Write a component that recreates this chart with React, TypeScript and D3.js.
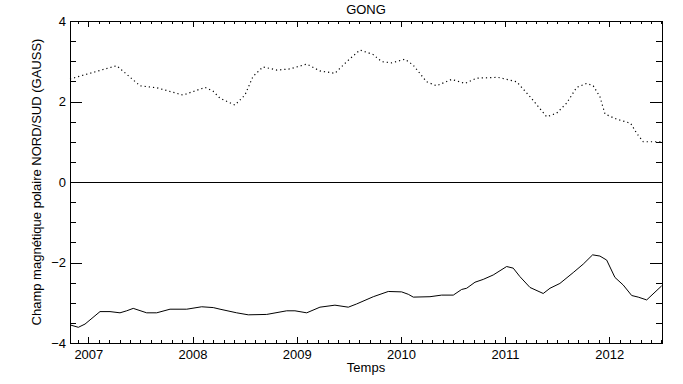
import { useEffect, useRef } from "react";
import * as d3 from "d3";

// polar field, year fraction / gauss
const northT = [
  2006.824, 2007.272, 2007.496, 2007.659, 2007.908, 2008.12, 2008.196, 2008.264,
  2008.407, 2008.503, 2008.58, 2008.676, 2008.811, 2008.935, 2009.096, 2009.223,
  2009.367, 2009.48, 2009.607, 2009.732, 2009.815, 2009.911, 2010.039, 2010.116,
  2010.247, 2010.343, 2010.487, 2010.615, 2010.727, 2010.931, 2011.111, 2011.239,
  2011.399, 2011.495, 2011.591, 2011.687, 2011.783, 2011.846, 2011.91, 2011.959,
  2012.071, 2012.205, 2012.263, 2012.326, 2012.505,
];
const northB = [
  2.56, 2.89, 2.39, 2.34, 2.16, 2.35, 2.26, 2.08,
  1.91, 2.16, 2.62, 2.86, 2.78, 2.81, 2.93, 2.76,
  2.7, 2.99, 3.28, 3.17, 2.99, 2.96, 3.05, 2.91,
  2.49, 2.39, 2.55, 2.45, 2.58, 2.6, 2.49, 2.12,
  1.62, 1.71, 1.96, 2.35, 2.45, 2.39, 2.12, 1.69,
  1.56, 1.46, 1.21, 1.0, 1.0,
];

const southT = [
  2006.824, 2006.904, 2006.968, 2007.112, 2007.208, 2007.304, 2007.368, 2007.431,
  2007.56, 2007.656, 2007.784, 2007.944, 2008.088, 2008.199, 2008.264, 2008.424,
  2008.535, 2008.712, 2008.904, 2008.983, 2009.096, 2009.223, 2009.367, 2009.495,
  2009.575, 2009.735, 2009.879, 2010.007, 2010.071, 2010.119, 2010.279, 2010.391,
  2010.503, 2010.583, 2010.631, 2010.711, 2010.79, 2010.886, 2011.015, 2011.078,
  2011.142, 2011.239, 2011.366, 2011.431, 2011.526, 2011.654, 2011.75, 2011.84,
  2011.91, 2011.975, 2012.054, 2012.134, 2012.215, 2012.278, 2012.359, 2012.503,
];
const southB = [
  -3.55, -3.61, -3.53, -3.22, -3.22, -3.25, -3.2, -3.14,
  -3.25, -3.25, -3.16, -3.16, -3.1, -3.12, -3.16, -3.25,
  -3.3, -3.29, -3.2, -3.2, -3.25, -3.11, -3.06, -3.11,
  -3.03, -2.85, -2.72, -2.73, -2.79, -2.86, -2.85, -2.81,
  -2.81, -2.67, -2.64, -2.49, -2.42, -2.31, -2.1, -2.14,
  -2.35, -2.62, -2.77, -2.64, -2.52, -2.25, -2.04, -1.81,
  -1.84, -1.94, -2.37, -2.56, -2.82, -2.86, -2.93, -2.58,
];

const yearTicks = [2007, 2008, 2009, 2010, 2011, 2012];
const valueTicks = [-4, -2, 0, 2, 4];

const FONT = "'Liberation Sans', Arial, sans-serif";

const App = () => {
  const svgRef = useRef<SVGSVGElement | null>(null);

  const width = 683;
  const height = 384;
  const margin = { top: 21, right: 21, bottom: 41, left: 70 };

  useEffect(() => {
    if (!svgRef.current) return;
    const svg = d3.select(svgRef.current);
    svg.selectAll("*").remove();

    const innerW = width - margin.left - margin.right;
    const innerH = height - margin.top - margin.bottom;

    const x = d3.scaleLinear().domain([2006.824, 2012.506]).range([0, innerW]);
    const y = d3.scaleLinear().domain([-4, 4]).range([innerH, 0]);

    const g = svg
      .append("g")
      .attr("transform", `translate(${margin.left},${margin.top})`);

    const minorX = d3.range(2006.9, 2012.55, 0.1).filter(
      (v) => Math.abs(v - Math.round(v)) > 0.01
    );
    const minorY = d3.range(-4, 4.01, 0.5).filter((v) => v % 2 !== 0);

    const styleAxis = (sel: d3.Selection<SVGGElement, unknown, null, undefined>) => {
      sel.select(".domain").attr("stroke", "#000").attr("stroke-width", 1);
      sel.selectAll(".tick line").attr("stroke", "#000");
      sel
        .selectAll("text")
        .attr("font-family", FONT)
        .attr("font-size", 13)
        .attr("fill", "#000");
      sel.attr("shape-rendering", "crispEdges");
    };

    const noLabel = () => "";

    // minor ticks first, majors on top (IDL style: ticks point inward on all 4 sides)
    styleAxis(
      g.append("g")
        .attr("transform", `translate(0,${innerH})`)
        .call(d3.axisBottom(x).tickValues(minorX).tickSize(-3).tickFormat(noLabel).tickSizeOuter(0))
    );
    styleAxis(
      g.append("g")
        .attr("transform", `translate(0,${innerH})`)
        .call(
          d3.axisBottom(x).tickValues(yearTicks).tickSize(-6).tickSizeOuter(0)
            .tickPadding(7).tickFormat(d3.format("d"))
        )
    );

    styleAxis(
      g.append("g")
        .call(d3.axisTop(x).tickValues(minorX).tickSize(-3).tickFormat(noLabel).tickSizeOuter(0))
    );
    styleAxis(
      g.append("g")
        .call(d3.axisTop(x).tickValues(yearTicks).tickSize(-6).tickFormat(noLabel).tickSizeOuter(0))
    );

    styleAxis(
      g.append("g")
        .call(d3.axisLeft(y).tickValues(minorY).tickSize(-6).tickFormat(noLabel).tickSizeOuter(0))
    );
    styleAxis(
      g.append("g")
        .call(
          d3.axisLeft(y).tickValues(valueTicks).tickSize(-12).tickSizeOuter(0)
            .tickPadding(4).tickFormat(d3.format("d"))
        )
    );

    styleAxis(
      g.append("g")
        .attr("transform", `translate(${innerW},0)`)
        .call(d3.axisRight(y).tickValues(minorY).tickSize(-6).tickFormat(noLabel).tickSizeOuter(0))
    );
    styleAxis(
      g.append("g")
        .attr("transform", `translate(${innerW},0)`)
        .call(d3.axisRight(y).tickValues(valueTicks).tickSize(-12).tickFormat(noLabel).tickSizeOuter(0))
    );

    // zero line
    g.append("line")
      .attr("x1", 0)
      .attr("x2", innerW)
      .attr("y1", y(0))
      .attr("y2", y(0))
      .attr("stroke", "#000")
      .attr("shape-rendering", "crispEdges");

    const path = d3.line();
    const north = northT.map((t, i) => [x(t), y(northB[i])] as [number, number]);
    const south = southT.map((t, i) => [x(t), y(southB[i])] as [number, number]);

    g.append("path")
      .attr("d", path(north))
      .attr("fill", "none")
      .attr("stroke", "#000")
      .attr("stroke-width", 1.2)
      .attr("stroke-dasharray", "1.2 3");

    g.append("path")
      .attr("d", path(south))
      .attr("fill", "none")
      .attr("stroke", "#000")
      .attr("stroke-width", 1);

    // titles
    svg
      .append("text")
      .attr("x", margin.left + innerW / 2)
      .attr("y", 14)
      .attr("text-anchor", "middle")
      .attr("font-family", FONT)
      .attr("font-size", 13)
      .text("GONG");

    svg
      .append("text")
      .attr("x", margin.left + innerW / 2)
      .attr("y", 372)
      .attr("text-anchor", "middle")
      .attr("font-family", FONT)
      .attr("font-size", 13)
      .text("Temps");

    svg
      .append("text")
      .attr("transform", `translate(41,${margin.top + innerH / 2}) rotate(-90)`)
      .attr("text-anchor", "middle")
      .attr("font-family", FONT)
      .attr("font-size", 13)
      .text("Champ magnétique polaire NORD/SUD (GAUSS)");
  }, []);

  return (
    <svg
      ref={svgRef}
      width={width}
      height={height}
      style={{ position: "absolute", left: 0, top: 0, background: "#fff" }}
    />
  );
};

export default App;
